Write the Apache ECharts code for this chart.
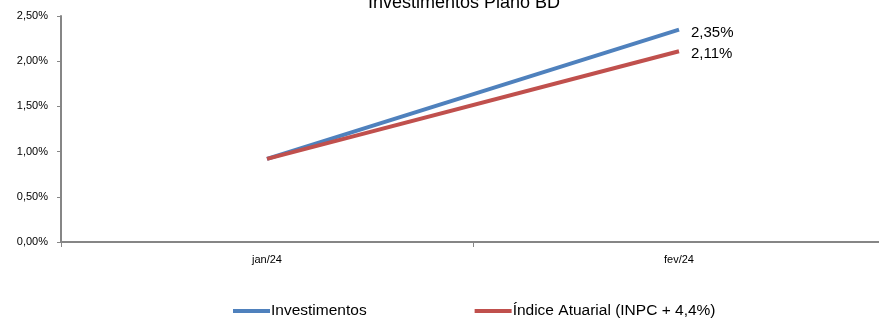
<!DOCTYPE html>
<html>
<head>
<meta charset="utf-8">
<title>Investimentos Plano BD</title>
<script src="https://cdn.jsdelivr.net/npm/echarts@6/dist/echarts.min.js"></script>
</head>
<body style="margin: 0; background-color: #fff;">
<div id="main" style="width: 879px; height: 318px;"></div>
<script>
  // data
  const months = ['jan/24', 'fev/24']
  const investimentos = [0.92, 2.35]
  const indiceAtuarial = [0.92, 2.11]
  const yTicks = [0, 0.5, 1, 1.5, 2, 2.5]

  const fmt = v => v.toFixed(2).replace('.', ',') + '%'
  const font = 'Liberation Sans'
  const axisGrey = '#868686'

  const endLabel = {
    show: true,
    distance: 12,
    offset: [0, 3],
    fontFamily: font,
    fontSize: 15,
    color: '#000',
    formatter: p => fmt(p.value)
  }

  const myChart = echarts.init(document.getElementById('main'))
  const option = {
    animation: false,
    title: {
      text: 'Investimentos Plano BD',
      left: 459,
      textAlign: 'center',
      top: -11,
      textStyle: { fontFamily: font, fontSize: 18, fontWeight: 'normal', color: '#000' }
    },
    grid: { left: 61, right: -6, top: 16, bottom: 76, outerBoundsMode: 'none', containLabel: false },
    legend: {
      bottom: -6,
      left: 228,
      itemWidth: 37,
      itemHeight: 4,
      itemGap: 108,
      icon: 'rect',
      textStyle: { fontFamily: font, fontSize: 15.5, color: '#000', padding: [0, 0, 0, -4] },
      data: ['Investimentos', 'Índice Atuarial (INPC + 4,4%)']
    },
    xAxis: {
      type: 'category',
      data: months,
      boundaryGap: true,
      axisLine: { lineStyle: { color: axisGrey, width: 2 } },
      axisTick: { show: true, length: 5, lineStyle: { color: axisGrey } },
      axisLabel: { fontFamily: font, fontSize: 11, color: '#000', margin: 12 }
    },
    yAxis: {
      type: 'value',
      min: yTicks[0],
      max: yTicks[yTicks.length - 1],
      interval: yTicks[1] - yTicks[0],
      splitLine: { show: false },
      axisLine: { show: true, lineStyle: { color: axisGrey, width: 2 } },
      axisTick: { show: true, length: 4, lineStyle: { color: axisGrey } },
      axisLabel: { fontFamily: font, fontSize: 11, color: '#000', margin: 13, formatter: fmt }
    },
    series: [
      {
        name: 'Investimentos',
        type: 'line',
        data: investimentos,
        showSymbol: false,
        symbol: 'none',
        color: '#4F81BD',
        lineStyle: { width: 4, color: '#4F81BD' },
        endLabel: endLabel,
        z: 2
      },
      {
        name: 'Índice Atuarial (INPC + 4,4%)',
        type: 'line',
        data: indiceAtuarial,
        showSymbol: false,
        symbol: 'none',
        color: '#C0504D',
        lineStyle: { width: 4, color: '#C0504D' },
        endLabel: endLabel,
        z: 3
      }
    ]
  }
  myChart.setOption(option)
</script>
</body>
</html>
